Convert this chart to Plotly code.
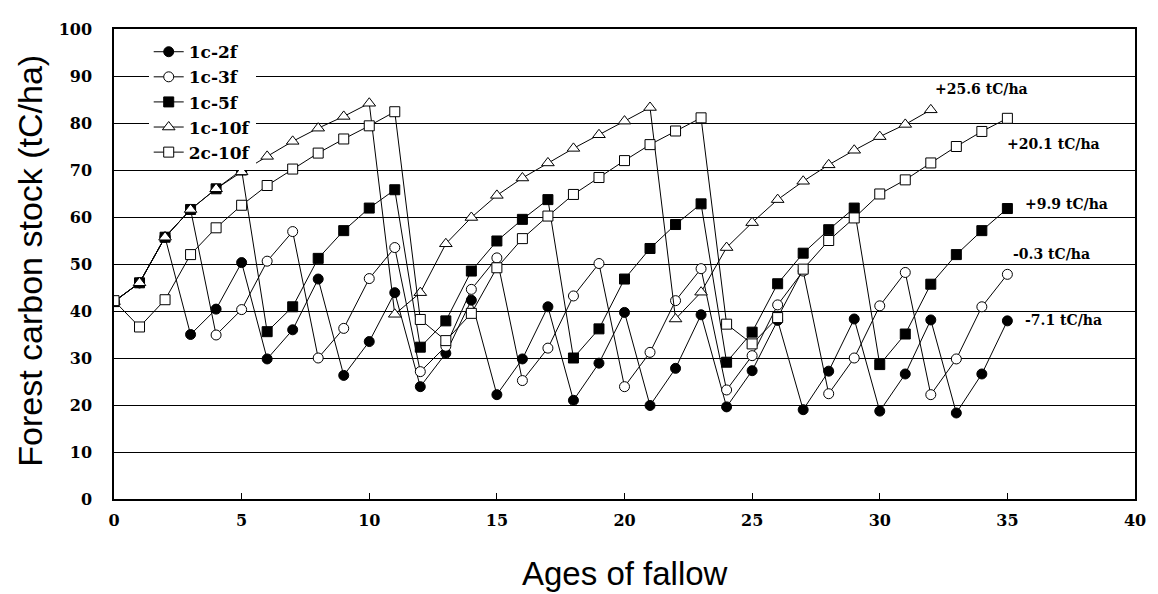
import plotly.graph_objects as go

ages = list(range(0, 36))
ages_1c10f = list(range(0, 33))

c1_2f = [42, 46, 55.7, 35.0, 40.4, 50.3, 29.8, 36.0, 46.8, 26.3, 33.5, 43.9, 23.9, 31.0, 42.3, 22.2,
         29.8, 40.9, 21.0, 28.9, 39.7, 19.9, 27.8, 39.2, 19.6, 27.3, 38.0, 19.0, 27.2, 38.3, 18.7,
         26.6, 38.1, 18.3, 26.6, 37.9]
c1_3f = [42, 46, 55.7, 61.6, 34.9, 40.3, 50.6, 56.9, 30.0, 36.3, 46.9, 53.5, 27.1, 32.5, 44.6, 51.3,
         25.2, 32.1, 43.2, 50.1, 23.9, 31.2, 42.2, 49.0, 23.2, 30.5, 41.3, 48.5, 22.4, 30.0, 41.1,
         48.2, 22.2, 29.8, 40.9, 47.8]
c1_5f = [42, 46, 55.7, 61.6, 66.0, 70.0, 35.6, 40.9, 51.2, 57.1, 61.9, 65.8, 32.3, 37.9, 48.5, 54.9,
         59.5, 63.7, 30.0, 36.2, 46.8, 53.3, 58.4, 62.8, 29.1, 35.5, 45.8, 52.3, 57.3, 61.9, 28.6,
         35.1, 45.7, 52.0, 57.1, 61.8]
c1_10f = [42, 46, 55.7, 61.6, 66.0, 69.6, 72.9, 76.1, 78.9, 81.4, 84.2, 39.3, 43.9, 54.3, 59.9, 64.6,
          68.3, 71.5, 74.6, 77.5, 80.4, 83.3, 38.3, 44.0, 53.5, 58.8, 63.7, 67.6, 71.1, 74.2, 77.1,
          79.7, 82.8]
c2_10f = [42.2, 36.6, 42.4, 52.0, 57.7, 62.5, 66.7, 70.2, 73.6, 76.6, 79.4, 82.4, 38.2, 33.7, 39.5,
          49.2, 55.4, 60.2, 64.8, 68.4, 72.0, 75.4, 78.3, 81.1, 37.2, 33.0, 38.6, 48.9, 55.0, 59.8,
          64.9, 67.9, 71.5, 75.0, 78.2, 81.0]

rate_labels = ["+25.6 tC/ha", "+20.1 tC/ha", "+9.9 tC/ha", "-0.3 tC/ha", "-7.1 tC/ha"]
rate_x = [32.1, 34.9, 35.6, 35.15, 35.6]
rate_y = [87.3, 75.6, 62.7, 52.1, 38.1]

x_ticks = [0, 5, 10, 15, 20, 25, 30, 35, 40]
y_ticks = [0, 10, 20, 30, 40, 50, 60, 70, 80, 90, 100]

serif = "DejaVu Serif"

series = [
    ("1c-2f", ages, c1_2f, "circle", "black", 10),
    ("1c-3f", ages, c1_3f, "circle", "white", 10),
    ("1c-5f", ages, c1_5f, "square", "black", 10),
    ("1c-10f", ages_1c10f, c1_10f, "triangle-up", "white", 11),
    ("2c-10f", ages, c2_10f, "square", "white", 10),
]

fig = go.Figure()
for name, xs, ys, sym, fill, size in series:
    fig.add_trace(go.Scatter(
        x=xs, y=ys, name=name, mode="lines+markers",
        line=dict(color="black", width=1),
        marker=dict(symbol=sym, size=size, color=fill,
                    line=dict(color="black", width=1)),
    ))

for txt, xv, yv in zip(rate_labels, rate_x, rate_y):
    fig.add_annotation(x=xv, y=yv, text=txt, showarrow=False, xanchor="left", yanchor="middle",
                       font=dict(family=serif, size=14, color="black", weight="bold"))

fig.add_annotation(xref="paper", yref="paper", x=-0.0817, y=0.506, text="Forest carbon stock (tC/ha)",
                   textangle=-90, showarrow=False, xanchor="center", yanchor="middle",
                   font=dict(family="Liberation Sans, Arial", size=34, color="black"))
fig.add_annotation(xref="paper", yref="paper", x=0.5, y=-0.158, text="Ages of fallow",
                   showarrow=False, xanchor="center", yanchor="middle",
                   font=dict(family="Liberation Sans, Arial", size=33, color="black"))

fig.update_layout(
    width=1150, height=586,
    margin=dict(l=106, r=16, t=19, b=95),
    paper_bgcolor="white", plot_bgcolor="white",
    showlegend=True,
    legend=dict(x=0.034, y=0.989, xanchor="left", yanchor="top", bgcolor="white",
                font=dict(family=serif, size=17, color="black", weight="bold"),
                tracegroupgap=0, itemwidth=30),
    xaxis=dict(range=[0, 40], tickvals=x_ticks, showgrid=False, zeroline=False,
               showline=True, linecolor="black", linewidth=1.5, mirror=True,
               ticks="inside", ticklen=6, tickcolor="black", tickwidth=1,
               ticklabelstandoff=6,
               tickfont=dict(family=serif, size=16, color="black", weight="bold")),
    yaxis=dict(range=[0, 100], tickvals=y_ticks, showgrid=True, gridcolor="black", gridwidth=1.3,
               zeroline=False, showline=True, linecolor="black", linewidth=1.5, mirror=True,
               ticks="", ticklabelstandoff=17,
               tickfont=dict(family=serif, size=16, color="black", weight="bold")),
)

fig.write_html("out.html")
